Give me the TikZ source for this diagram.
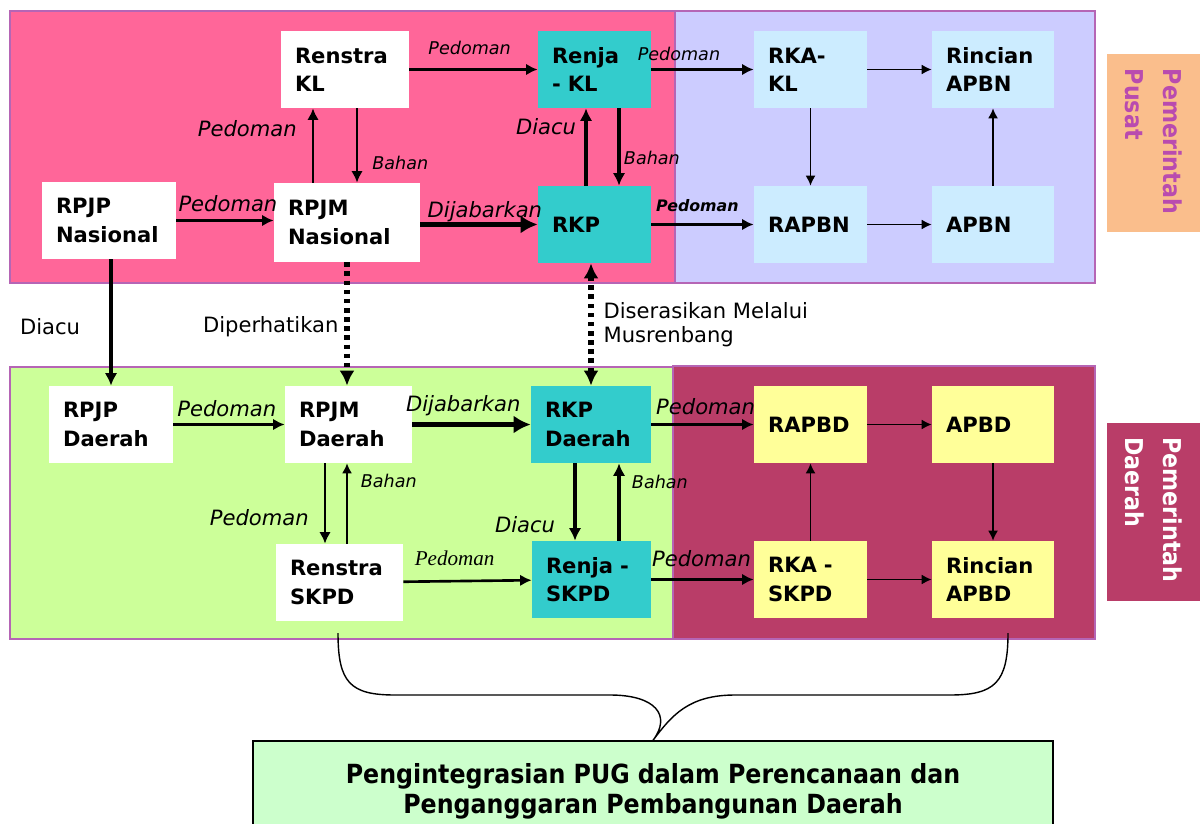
\documentclass[tikz,border=0pt]{standalone}
\usepackage{fontspec}
\setmainfont{DejaVu Sans}
\newfontfamily\serifface{Liberation Serif}
\newfontfamily\condface{DejaVu Sans Condensed}
\usetikzlibrary{arrows.meta,positioning,calc}

\definecolor{pinkbg}{HTML}{FF6699}
\definecolor{lavbg}{HTML}{CCCCFF}
\definecolor{greenbg}{HTML}{CCFF99}
\definecolor{maroonbg}{HTML}{B93D68}
\definecolor{panelline}{HTML}{B565B5}
\definecolor{tealbox}{HTML}{33CCCC}
\definecolor{bluebox}{HTML}{CCECFF}
\definecolor{yellowbox}{HTML}{FFFF99}
\definecolor{orangebg}{HTML}{FABE8C}
\definecolor{pusattext}{HTML}{B94BAF}
\definecolor{pugbg}{HTML}{CCFFCC}

\begin{document}
\begin{tikzpicture}[
  planbox/.style={text width=#1, minimum height=1.54cm, inner xsep=0.28cm, inner ysep=0pt, align=left, font=\fontsize{12}{16}\selectfont\bfseries},
  sidelabel/.style={rotate=-90, text width=2.96cm, minimum width=3.56cm, minimum height=1.86cm, inner xsep=0.30cm, inner ysep=0pt, align=left, font=\condface\fontsize{14}{22}\selectfont\bfseries},
  panel/.style={draw=panelline, line width=0.6pt},
  lbl/.style={inner sep=0pt, font=\fontsize{12}{14}\selectfont\itshape},
  lblsmall/.style={inner sep=0pt, font=\fontsize{10}{12}\selectfont\itshape},
  lblplain/.style={inner sep=0pt, align=left, font=\fontsize{12}{14}\selectfont},
  arrthin/.style={-{Latex[length=2mm,width=2mm]}, line width=0.9pt},
  arrmid/.style={-{Latex[length=2.3mm,width=2.3mm]}, line width=1.5pt},
  arrthick/.style={-{Latex[length=2.5mm,width=2.5mm]}, line width=2.2pt},
  arrbold/.style={-{Latex[length=3.4mm,width=3.6mm]}, line width=3.4pt},
  arrdot/.style={-{Latex[length=3mm,width=3mm]}, line width=3pt, dash pattern=on 2.6pt off 2.6pt},
  arrdotboth/.style={{Latex[length=3mm,width=3mm]}-{Latex[length=3mm,width=3mm]}, line width=3pt, dash pattern=on 2.6pt off 2.6pt}
]
\useasboundingbox (0,0) rectangle (24,-16.46);

\draw[panel, fill=pinkbg]   (0.20,-0.22) rectangle (13.50,-5.66);
\draw[panel, fill=lavbg]    (13.50,-0.22) rectangle (21.90,-5.66);
\draw[panel, fill=greenbg]  (0.20,-7.34) rectangle (13.50,-12.78);
\draw[panel, fill=maroonbg] (13.46,-7.32) rectangle (21.90,-12.78);

\node[planbox=2.00cm, fill=white]     (renstraKL)   at (6.90,-1.39)   {Renstra\\KL};
\node[planbox=1.70cm, fill=tealbox]   (renjaKL)     at (11.89,-1.39)  {Renja\\- KL};
\node[planbox=1.70cm, fill=bluebox]   (rkaKL)       at (16.21,-1.39)  {RKA-\\KL};
\node[planbox=1.88cm, fill=bluebox]   (rincianAPBN) at (19.86,-1.39)  {Rincian\\APBN};
\node[planbox=2.12cm, fill=white]     (rpjpNas)     at (2.18,-4.41)   {RPJP\\Nasional};
\node[planbox=2.36cm, fill=white, minimum height=1.58cm] (rpjmNas) at (6.94,-4.45) {RPJM\\Nasional};
\node[planbox=1.70cm, fill=tealbox]   (rkp)         at (11.89,-4.49)  {RKP};
\node[planbox=1.70cm, fill=bluebox]   (rapbn)       at (16.21,-4.49)  {RAPBN};
\node[planbox=1.88cm, fill=bluebox]   (apbn)        at (19.86,-4.49)  {APBN};

\node[planbox=1.92cm, fill=white]     (rpjpDaerah)  at (2.22,-8.49)   {RPJP\\Daerah};
\node[planbox=1.98cm, fill=white]     (rpjmDaerah)  at (6.97,-8.49)   {RPJM\\Daerah};
\node[planbox=1.84cm, fill=tealbox]   (rkpDaerah)   at (11.82,-8.49)  {RKP\\Daerah};
\node[planbox=1.70cm, fill=yellowbox] (rapbd)       at (16.21,-8.49)  {RAPBD};
\node[planbox=1.88cm, fill=yellowbox] (apbd)        at (19.86,-8.49)  {APBD};
\node[planbox=1.98cm, fill=white]     (renstraSKPD) at (6.79,-11.65)  {Renstra\\SKPD};
\node[planbox=1.82cm, fill=tealbox]   (renjaSKPD)   at (11.83,-11.59) {Renja -\\SKPD};
\node[planbox=1.70cm, fill=yellowbox] (rkaSKPD)     at (16.21,-11.59) {RKA -\\SKPD};
\node[planbox=1.88cm, fill=yellowbox] (rincianAPBD) at (19.86,-11.59) {Rincian\\APBD};

\node[sidelabel, fill=orangebg, text=pusattext] (pusat)  at (23.07,-2.86)  {Pemerintah\\Pusat};
\node[sidelabel, fill=maroonbg, text=white]     (daerah) at (23.07,-10.23) {Pemerintah\\Daerah};

\node[draw=black, fill=pugbg, line width=0.8pt, minimum width=16cm, minimum height=2.0cm, align=center,
      font=\condface\fontsize{15}{17}\selectfont\bfseries] (pug) at (13.06,-15.82)
      {Pengintegrasian PUG dalam Perencanaan dan\\Penganggaran Pembangunan Daerah};

\draw[arrmid] (renstraKL.east) -- (renstraKL.east -| renjaKL.west) node[lblsmall, pos=0.47, yshift=0.44cm] (lbPed1) {Pedoman};
\draw[arrmid] (renjaKL.east) -- (renjaKL.east -| rkaKL.west) node[lblsmall, pos=0.27, yshift=0.32cm] (lbPed2) {Pedoman};
\draw[arrthin] (rkaKL) -- (rincianAPBN);
\draw[arrmid] ([xshift=-0.64cm]renstraKL.south |- rpjmNas.north) -- ([xshift=-0.64cm]renstraKL.south) node[lbl, pos=0.73, anchor=east, xshift=-0.30cm] (lbPed3) {Pedoman};
\draw[arrmid] ([xshift=0.24cm]renstraKL.south) -- ([xshift=0.24cm]renstraKL.south |- rpjmNas.north) node[lblsmall, pos=0.73, anchor=west, xshift=0.28cm] (lbBah1) {Bahan};
\draw[arrmid] (rpjpNas.east) -- (rpjpNas.east -| rpjmNas.west) node[lbl, pos=0.53, yshift=0.34cm] (lbPed4) {Pedoman};
\draw[arrbold] (rpjmNas.east |- rkp.west) -- (rkp.west) node[lbl, pos=0.55, yshift=0.26cm] (lbDij1) {Dijabarkan};
\draw[arrthick] ([xshift=-0.17cm]renjaKL.south |- rkp.north) -- ([xshift=-0.17cm]renjaKL.south) node[lbl, pos=0.76, anchor=east, xshift=-0.16cm] (lbDia1) {Diacu};
\draw[arrthick] ([xshift=0.49cm]renjaKL.south) -- ([xshift=0.49cm]renjaKL.south |- rkp.north) node[lblsmall, pos=0.64, anchor=west, xshift=0.06cm] (lbBah2) {Bahan};
\draw[arrmid] (rkp) -- (rapbn) node[lblsmall, font=\fontsize{9}{11}\selectfont\bfseries\itshape, pos=0.45, yshift=0.38cm] (lbPed5) {Pedoman};
\draw[arrthin] (rapbn) -- (apbn);
\draw[arrthin] (rkaKL) -- (rapbn);
\draw[arrthin] (apbn) -- (rincianAPBN);

\draw[arrthick] (rpjpNas.south -| rpjpDaerah.north) -- (rpjpDaerah.north) node[lblplain, pos=0.53, anchor=east, xshift=-0.58cm] (lbDia2) {Diacu};
\draw[arrdot] (rpjmNas.south) -- (rpjmNas.south |- rpjmDaerah.north) node[lblplain, pos=0.52, anchor=east, xshift=-0.12cm] (lbPerh) {Diperhatikan};
\draw[arrdotboth] (rkpDaerah.north) -- (rkpDaerah.north |- rkp.south) node[lblplain, pos=0.5, anchor=west, xshift=0.20cm] (lbSeras) {Diserasikan Melalui\\Musrenbang};

\draw[arrmid] (rpjpDaerah) -- (rpjmDaerah) node[lbl, pos=0.48, yshift=0.32cm] (lbPed6) {Pedoman};
\draw[arrbold] (rpjmDaerah) -- (rkpDaerah) node[lbl, pos=0.43, yshift=0.38cm] (lbDij2) {Dijabarkan};
\draw[arrmid] (rkpDaerah) -- (rapbd) node[lbl, pos=0.53, yshift=0.36cm] (lbPed7) {Pedoman};
\draw[arrthin] (rapbd) -- (apbd);
\draw[arrmid] ([xshift=-0.47cm]rpjmDaerah.south) -- ([xshift=-0.47cm]rpjmDaerah.south |- renstraSKPD.north) node[lbl, pos=0.68, anchor=east, xshift=-0.30cm] (lbPed8) {Pedoman};
\draw[arrthin] ([xshift=-0.03cm]rpjmDaerah.south |- renstraSKPD.north) -- ([xshift=-0.03cm]rpjmDaerah.south) node[lblsmall, pos=0.78, anchor=west, xshift=0.26cm] (lbBah3) {Bahan};
\draw[arrmid] (renstraSKPD) -- (renjaSKPD) node[lbl, font=\serifface\fontsize{12}{14}\selectfont\itshape, pos=0.40, yshift=0.46cm] (lbPed9) {Pedoman};
\draw[arrthick] ([xshift=-0.32cm]rkpDaerah.south) -- ([xshift=-0.32cm]rkpDaerah.south |- renjaSKPD.north) node[lbl, pos=0.79, anchor=east, xshift=-0.36cm] (lbDia3) {Diacu};
\draw[arrthick] ([xshift=0.56cm]rkpDaerah.south |- renjaSKPD.north) -- ([xshift=0.56cm]rkpDaerah.south) node[lblsmall, pos=0.76, anchor=west, xshift=0.22cm] (lbBah4) {Bahan};
\draw[arrmid] (renjaSKPD) -- (rkaSKPD) node[lbl, pos=0.49, yshift=0.42cm] (lbPed10) {Pedoman};
\draw[arrthin] (rkaSKPD) -- (rapbd);
\draw[arrthin] (rkaSKPD) -- (rincianAPBD);
\draw[arrthin] (apbd) -- (rincianAPBD);

\coordinate (braceL) at (6.76,-12.66);
\coordinate (braceR) at (20.16,-12.66);
\draw[line width=0.8pt] (braceL) .. controls (6.76,-13.65) and (7.0,-13.90) .. (7.9,-13.90) -- (12.2,-13.90)
  .. controls (13.1,-13.90) and (13.44,-14.3) .. (pug.north)
  .. controls (13.44,-14.3) and (13.78,-13.90) .. (14.7,-13.90) -- (19.0,-13.90)
  .. controls (19.9,-13.90) and (20.16,-13.65) .. (braceR);
\end{tikzpicture}
\end{document}
